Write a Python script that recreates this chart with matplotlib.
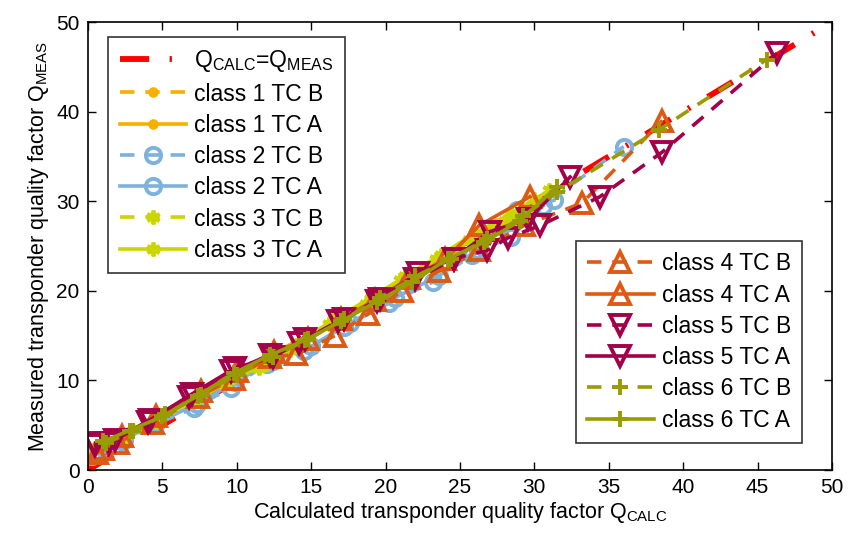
import matplotlib
matplotlib.use("Agg")
import matplotlib.pyplot as plt

plt.rcParams['font.family'] = ['Liberation Sans', 'DejaVu Sans']
plt.rcParams['mathtext.fontset'] = 'custom'
plt.rcParams['mathtext.rm'] = 'Liberation Sans'
plt.rcParams['mathtext.it'] = 'Liberation Sans'

# Reference diagonal
diag = [0, 50]

# Class 1
c1b_x = [1.2, 3.0, 5.2, 7.6, 10.0, 12.4, 15.0, 17.5, 20.0, 22.5, 25.0, 27.5]
c1b_y = [3.0, 4.6, 6.2, 8.4, 10.6, 13.0, 15.2, 17.4, 19.8, 22.3, 25.0, 27.6]
c1a_x = [1.0, 2.7, 4.8, 7.3, 9.8, 12.2, 14.7, 17.3, 19.8, 22.3, 24.8, 27.2]
c1a_y = [2.8, 4.2, 5.9, 8.0, 10.3, 12.5, 14.8, 17.0, 19.4, 22.0, 24.7, 27.2]
# Class 2
c2b_x = [0.3, 2.2, 4.4, 7.1, 9.6, 12.0, 14.5, 17.2, 20.2, 23.2, 25.8, 28.4, 30.6, 36.0]
c2b_y = [1.6, 3.2, 5.0, 6.9, 9.2, 11.8, 13.3, 16.0, 18.6, 21.0, 24.0, 26.0, 29.5, 36.1]
c2a_x = [0.6, 2.4, 4.6, 7.3, 9.9, 12.4, 15.0, 17.6, 20.6, 23.6, 26.2, 28.8, 31.3]
c2a_y = [1.8, 3.4, 5.2, 7.4, 9.8, 12.2, 13.8, 16.4, 19.2, 21.7, 24.6, 29.0, 30.1]
# Class 3
c3b_x = [0.4, 2.3, 4.6, 7.0, 9.2, 11.5, 13.6, 16.2, 18.7, 21.0, 23.4, 25.6, 28.0, 30.0]
c3b_y = [2.3, 3.6, 5.4, 7.6, 9.6, 11.4, 13.4, 16.3, 18.5, 21.2, 23.6, 25.7, 27.8, 30.2]
c3a_x = [0.5, 2.5, 4.8, 7.2, 9.5, 12.0, 14.0, 16.5, 19.0, 21.3, 23.7, 26.0, 28.4, 31.0]
c3a_y = [2.5, 3.8, 5.6, 7.9, 10.0, 11.8, 14.0, 16.8, 19.2, 21.6, 24.0, 26.4, 28.6, 31.2]
# Class 4
c4b_x = [0.6, 2.0, 4.4, 7.4, 9.8, 12.2, 14.0, 16.6, 18.8, 21.1, 23.6, 26.3, 29.3, 33.2, 38.6]
c4b_y = [1.9, 3.0, 5.2, 8.2, 10.2, 12.6, 12.9, 15.0, 17.4, 20.0, 22.2, 24.5, 27.3, 29.8, 39.0]
c4a_x = [1.0, 2.3, 4.6, 7.6, 10.0, 12.5, 14.8, 17.0, 19.3, 21.6, 24.0, 26.3, 29.7]
c4a_y = [2.4, 3.8, 6.0, 8.8, 11.0, 13.2, 14.6, 16.8, 19.0, 21.4, 23.5, 27.3, 30.5]
# Class 5
c5b_x = [0.4, 1.4, 4.0, 6.8, 9.6, 12.2, 14.2, 16.8, 19.4, 22.0, 24.6, 26.8, 28.2, 30.4, 34.4, 38.6, 46.3]
c5b_y = [3.0, 3.0, 5.4, 8.2, 11.0, 12.8, 14.2, 16.6, 18.9, 21.3, 23.6, 24.5, 25.9, 27.3, 30.5, 35.5, 46.5]
c5a_x = [0.5, 1.8, 4.2, 7.0, 9.9, 12.4, 14.6, 17.2, 19.6, 22.2, 24.6, 27.0, 29.6, 32.4]
c5a_y = [2.8, 3.4, 5.6, 8.5, 11.4, 12.6, 14.6, 16.8, 19.1, 22.0, 23.6, 26.6, 28.0, 32.7]
# Class 6
c6b_x = [1.2, 3.0, 5.2, 7.6, 10.0, 12.4, 14.8, 17.2, 19.6, 22.0, 24.4, 26.8, 29.2, 31.5, 38.4, 45.6]
c6b_y = [3.0, 4.3, 6.2, 8.4, 10.6, 12.6, 14.6, 16.8, 19.2, 21.6, 23.6, 25.8, 28.3, 31.0, 38.0, 45.8]
c6a_x = [1.0, 2.8, 5.0, 7.4, 9.8, 12.2, 14.6, 17.0, 19.4, 21.8, 24.2, 26.6, 29.0, 31.5]
c6a_y = [3.2, 4.4, 6.0, 8.3, 10.8, 12.8, 14.5, 16.6, 18.8, 21.0, 23.6, 25.4, 27.8, 31.6]

colors = ['#F7B000', '#7DB2DC', '#CBD600', '#DC5A14', '#A3004A', '#999B00']
asterisk = (6, 2, 0)

fig = plt.figure(figsize=(8.51, 5.41), dpi=100)
ax = fig.add_axes([0.1034, 0.1312, 0.8743, 0.8281])

lw = 2.6
dash = (0, (4, 3))
h = []
h += ax.plot(diag, diag, color='#FF0000', lw=4.2,
             linestyle=(0, (5, 3.5, 0.4, 3.5)), label=r'Q$_{\mathrm{CALC}}$=Q$_{\mathrm{MEAS}}$')

specs = [
    (c1b_x, c1b_y, 0, asterisk, 7, dash, 'class 1 TC B'),
    (c1a_x, c1a_y, 0, asterisk, 7, '-', 'class 1 TC A'),
    (c2b_x, c2b_y, 1, 'o', 11, dash, 'class 2 TC B'),
    (c2a_x, c2a_y, 1, 'o', 11, '-', 'class 2 TC A'),
    (c3b_x, c3b_y, 2, asterisk, 10, dash, 'class 3 TC B'),
    (c3a_x, c3a_y, 2, asterisk, 10, '-', 'class 3 TC A'),
    (c4b_x, c4b_y, 3, '^', 15, dash, 'class 4 TC B'),
    (c4a_x, c4a_y, 3, '^', 15, '-', 'class 4 TC A'),
    (c5b_x, c5b_y, 4, 'v', 15, dash, 'class 5 TC B'),
    (c5a_x, c5a_y, 4, 'v', 15, '-', 'class 5 TC A'),
    (c6b_x, c6b_y, 5, '+', 12, dash, 'class 6 TC B'),
    (c6a_x, c6a_y, 5, '+', 12, '-', 'class 6 TC A'),
]
for x, y, ci, mk, ms, ls, lab in specs:
    h += ax.plot(x, y, color=colors[ci], lw=lw, linestyle=ls, marker=mk,
                 markersize=ms, markerfacecolor='none', markeredgewidth=2.8,
                 markeredgecolor=colors[ci], label=lab)

ax.set_xlim(0, 50)
ax.set_ylim(0, 50)
ax.set_xticks(range(0, 51, 5))
ax.set_yticks(range(0, 51, 10))
ax.tick_params(direction='in', top=True, right=True, labelsize=15, length=6, width=1, pad=6)
for s in ax.spines.values():
    s.set_linewidth(1.2)

ax.set_xlabel(r'Calculated transponder quality factor Q$_{\mathrm{CALC}}$', fontsize=15.5, labelpad=2)
ax.set_ylabel(r'Measured transponder quality factor Q$_{\mathrm{MEAS}}$', fontsize=15.5, labelpad=4)

leg_kw = dict(fontsize=16.5, frameon=True, fancybox=False, edgecolor='black',
              handlelength=2.9, handletextpad=0.35, borderpad=0.5, labelspacing=0.36,
              borderaxespad=0)
leg1 = ax.legend(handles=h[:7], loc='upper left', bbox_to_anchor=(0.027, 0.967), **leg_kw)
leg1.get_frame().set_linewidth(1.2)
ax.add_artist(leg1)
leg2 = ax.legend(handles=h[7:], loc='lower right', bbox_to_anchor=(0.96, 0.06), **leg_kw)
leg2.get_frame().set_linewidth(1.2)

fig.savefig('out.png', dpi=100)
